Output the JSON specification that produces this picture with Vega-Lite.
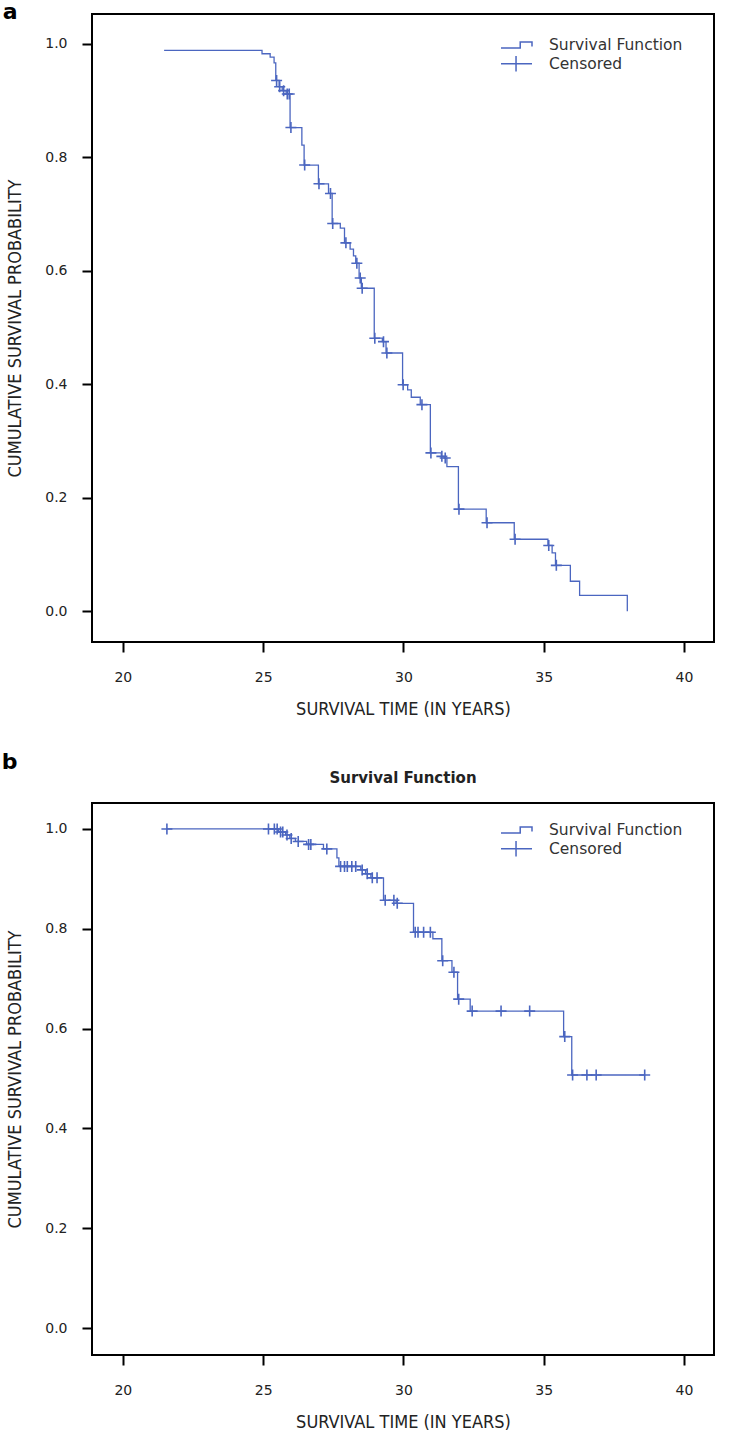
{
  "$schema": "https://vega.github.io/schema/vega-lite/v6.json",
  "background": "white",
  "padding": {"left": 1, "top": 0, "right": 5, "bottom": 5},
  "datasets": {
    "a": [
      {"t": 21.47, "s": 0.988, "status": "Event"},
      {"t": 24.96, "s": 0.982, "status": "Event"},
      {"t": 25.25, "s": 0.976, "status": "Event"},
      {"t": 25.39, "s": 0.966, "status": "Event"},
      {"t": 25.45, "s": 0.935, "status": "Event"},
      {"t": 25.48, "s": 0.935, "status": "Censored"},
      {"t": 25.57, "s": 0.924, "status": "Event"},
      {"t": 25.59, "s": 0.924, "status": "Censored"},
      {"t": 25.68, "s": 0.917, "status": "Event"},
      {"t": 25.73, "s": 0.917, "status": "Censored"},
      {"t": 25.82, "s": 0.911, "status": "Event"},
      {"t": 25.86, "s": 0.911, "status": "Censored"},
      {"t": 25.93, "s": 0.911, "status": "Censored"},
      {"t": 25.96, "s": 0.852, "status": "Event"},
      {"t": 25.99, "s": 0.852, "status": "Censored"},
      {"t": 26.38, "s": 0.821, "status": "Event"},
      {"t": 26.46, "s": 0.786, "status": "Event"},
      {"t": 26.48, "s": 0.786, "status": "Censored"},
      {"t": 26.97, "s": 0.753, "status": "Event"},
      {"t": 26.99, "s": 0.753, "status": "Censored"},
      {"t": 27.33, "s": 0.736, "status": "Event"},
      {"t": 27.40, "s": 0.736, "status": "Censored"},
      {"t": 27.46, "s": 0.683, "status": "Event"},
      {"t": 27.48, "s": 0.683, "status": "Censored"},
      {"t": 27.75, "s": 0.675, "status": "Event"},
      {"t": 27.90, "s": 0.649, "status": "Event"},
      {"t": 27.95, "s": 0.649, "status": "Censored"},
      {"t": 28.10, "s": 0.638, "status": "Event"},
      {"t": 28.22, "s": 0.626, "status": "Event"},
      {"t": 28.30, "s": 0.613, "status": "Event"},
      {"t": 28.34, "s": 0.613, "status": "Censored"},
      {"t": 28.42, "s": 0.587, "status": "Event"},
      {"t": 28.46, "s": 0.587, "status": "Censored"},
      {"t": 28.50, "s": 0.569, "status": "Event"},
      {"t": 28.53, "s": 0.569, "status": "Censored"},
      {"t": 28.96, "s": 0.481, "status": "Event"},
      {"t": 28.98, "s": 0.481, "status": "Censored"},
      {"t": 29.25, "s": 0.475, "status": "Event"},
      {"t": 29.29, "s": 0.475, "status": "Censored"},
      {"t": 29.38, "s": 0.455, "status": "Event"},
      {"t": 29.41, "s": 0.455, "status": "Censored"},
      {"t": 29.97, "s": 0.399, "status": "Event"},
      {"t": 29.99, "s": 0.399, "status": "Censored"},
      {"t": 30.15, "s": 0.390, "status": "Event"},
      {"t": 30.28, "s": 0.377, "status": "Event"},
      {"t": 30.60, "s": 0.364, "status": "Event"},
      {"t": 30.66, "s": 0.364, "status": "Censored"},
      {"t": 30.96, "s": 0.279, "status": "Event"},
      {"t": 30.98, "s": 0.279, "status": "Censored"},
      {"t": 31.35, "s": 0.273, "status": "Event"},
      {"t": 31.37, "s": 0.273, "status": "Censored"},
      {"t": 31.45, "s": 0.270, "status": "Event"},
      {"t": 31.49, "s": 0.270, "status": "Censored"},
      {"t": 31.55, "s": 0.255, "status": "Event"},
      {"t": 31.96, "s": 0.180, "status": "Event"},
      {"t": 31.98, "s": 0.180, "status": "Censored"},
      {"t": 32.95, "s": 0.156, "status": "Event"},
      {"t": 32.98, "s": 0.156, "status": "Censored"},
      {"t": 33.95, "s": 0.127, "status": "Event"},
      {"t": 33.98, "s": 0.127, "status": "Censored"},
      {"t": 35.15, "s": 0.116, "status": "Event"},
      {"t": 35.18, "s": 0.116, "status": "Censored"},
      {"t": 35.30, "s": 0.103, "status": "Event"},
      {"t": 35.42, "s": 0.081, "status": "Event"},
      {"t": 35.45, "s": 0.081, "status": "Censored"},
      {"t": 35.95, "s": 0.053, "status": "Event"},
      {"t": 36.28, "s": 0.028, "status": "Event"},
      {"t": 37.98, "s": 0.000, "status": "Event"}
    ],
    "b": [
      {"t": 21.57, "s": 1.0, "status": "Censored"},
      {"t": 25.19, "s": 1.0, "status": "Censored"},
      {"t": 25.40, "s": 1.0, "status": "Censored"},
      {"t": 25.50, "s": 1.0, "status": "Censored"},
      {"t": 25.55, "s": 0.994, "status": "Event"},
      {"t": 25.62, "s": 0.994, "status": "Censored"},
      {"t": 25.70, "s": 0.994, "status": "Censored"},
      {"t": 25.80, "s": 0.988, "status": "Event"},
      {"t": 25.85, "s": 0.988, "status": "Censored"},
      {"t": 25.95, "s": 0.981, "status": "Event"},
      {"t": 26.00, "s": 0.981, "status": "Censored"},
      {"t": 26.15, "s": 0.975, "status": "Event"},
      {"t": 26.25, "s": 0.975, "status": "Censored"},
      {"t": 26.55, "s": 0.969, "status": "Event"},
      {"t": 26.62, "s": 0.969, "status": "Censored"},
      {"t": 26.70, "s": 0.969, "status": "Censored"},
      {"t": 27.15, "s": 0.960, "status": "Event"},
      {"t": 27.27, "s": 0.960, "status": "Censored"},
      {"t": 27.63, "s": 0.942, "status": "Event"},
      {"t": 27.70, "s": 0.925, "status": "Event"},
      {"t": 27.76, "s": 0.925, "status": "Censored"},
      {"t": 27.90, "s": 0.925, "status": "Censored"},
      {"t": 28.00, "s": 0.925, "status": "Censored"},
      {"t": 28.16, "s": 0.925, "status": "Censored"},
      {"t": 28.30, "s": 0.925, "status": "Censored"},
      {"t": 28.48, "s": 0.918, "status": "Event"},
      {"t": 28.53, "s": 0.918, "status": "Censored"},
      {"t": 28.65, "s": 0.910, "status": "Event"},
      {"t": 28.71, "s": 0.910, "status": "Censored"},
      {"t": 28.84, "s": 0.902, "status": "Event"},
      {"t": 28.89, "s": 0.902, "status": "Censored"},
      {"t": 29.06, "s": 0.902, "status": "Censored"},
      {"t": 29.29, "s": 0.857, "status": "Event"},
      {"t": 29.35, "s": 0.857, "status": "Censored"},
      {"t": 29.66, "s": 0.857, "status": "Censored"},
      {"t": 29.74, "s": 0.851, "status": "Event"},
      {"t": 29.78, "s": 0.851, "status": "Censored"},
      {"t": 30.36, "s": 0.793, "status": "Event"},
      {"t": 30.42, "s": 0.793, "status": "Censored"},
      {"t": 30.52, "s": 0.793, "status": "Censored"},
      {"t": 30.72, "s": 0.793, "status": "Censored"},
      {"t": 30.96, "s": 0.793, "status": "Censored"},
      {"t": 31.05, "s": 0.780, "status": "Event"},
      {"t": 31.37, "s": 0.736, "status": "Event"},
      {"t": 31.40, "s": 0.736, "status": "Censored"},
      {"t": 31.73, "s": 0.713, "status": "Event"},
      {"t": 31.80, "s": 0.713, "status": "Censored"},
      {"t": 31.93, "s": 0.659, "status": "Event"},
      {"t": 31.97, "s": 0.659, "status": "Censored"},
      {"t": 32.38, "s": 0.635, "status": "Event"},
      {"t": 32.45, "s": 0.635, "status": "Censored"},
      {"t": 33.48, "s": 0.635, "status": "Censored"},
      {"t": 34.50, "s": 0.635, "status": "Censored"},
      {"t": 35.71, "s": 0.584, "status": "Event"},
      {"t": 35.75, "s": 0.584, "status": "Censored"},
      {"t": 36.00, "s": 0.507, "status": "Event"},
      {"t": 36.03, "s": 0.507, "status": "Censored"},
      {"t": 36.54, "s": 0.507, "status": "Censored"},
      {"t": 36.87, "s": 0.507, "status": "Censored"},
      {"t": 38.60, "s": 0.507, "status": "Censored"}
    ]
  },
  "config": {
    "view": {"stroke": "black", "strokeWidth": 2},
    "axis": {
      "domain": false, "grid": false,
      "tickColor": "black", "tickWidth": 2, "tickSize": 10,
      "labelFont": "DejaVu Sans", "labelFontSize": 14, "labelColor": "#222",
      "titleFont": "DejaVu Sans Condensed, DejaVu Sans", "titleFontWeight": "normal", "titleColor": "#222", "titleFontSize": 18
    },
    "axisX": {"labelPadding": 18, "titlePadding": 16},
    "axisY": {"labelPadding": 15, "titlePadding": 20},
    "legend": {
      "orient": "none", "padding": 0, "title": null,
      "labelFont": "DejaVu Sans", "labelFontSize": 15.5, "labelColor": "#333",
      "symbolSize": 961, "symbolStrokeWidth": 1.5, "symbolStrokeColor": "#4b66c0", "symbolFillColor": "transparent",
      "labelOffset": 16
    }
  },
  "spacing": 32,
  "resolve": {"scale": {"color": "independent", "strokeDash": "independent"}, "legend": {"color": "independent", "strokeDash": "independent"}},
  "vconcat": [
    {
      "width": 622, "height": 628,
      "title": {"text": "a", "anchor": "start", "frame": "bounds", "font": "DejaVu Sans", "fontSize": 22, "fontWeight": "bold", "color": "black", "baseline": "alphabetic", "offset": -23, "dy": 4, "dx": -4},
      "data": {"name": "a"},
      "encoding": {
        "x": {"field": "t", "type": "quantitative", "scale": {"domain": [18.9, 41.07], "nice": false, "zero": false},
              "axis": {"title": "SURVIVAL TIME (IN YEARS)", "values": [20, 25, 30, 35, 40], "format": "d"}},
        "y": {"field": "s", "type": "quantitative", "scale": {"domain": [-0.054, 1.052], "nice": false, "zero": false},
              "axis": {"title": "CUMULATIVE SURVIVAL PROBABILITY", "values": [0, 0.2, 0.4, 0.6, 0.8, 1.0], "format": ".1f"}}
      },
      "layer": [
        {
          "mark": {"type": "line", "interpolate": "step-after", "color": "#4b66c0", "strokeWidth": 1.3},
          "encoding": {
            "strokeDash": {"datum": "Survival Function", "scale": {"range": [[1, 0]]},
              "legend": {"orient": "none", "legendX": 408, "legendY": 14.5, "symbolType": "M-1,0.2H0.24V-0.2H1V0.09", "symbolFillColor": "transparent"}}
          }
        },
        {
          "transform": [{"filter": "datum.status === 'Censored'"}],
          "mark": {"type": "point", "filled": false, "shape": "M-1,0H1M0,-1V1", "strokeWidth": 1.6, "size": 121, "opacity": 1},
          "encoding": {
            "color": {"datum": "Censored", "scale": {"range": ["#4b66c0"]},
              "legend": {"orient": "none", "legendX": 408, "legendY": 33.2, "symbolType": "M-1,0H1M-0.03,-0.5V0.5"}}
          }
        }
      ]
    },
    {
      "title": {"text": "b", "anchor": "start", "frame": "bounds", "font": "DejaVu Sans", "fontSize": 22, "fontWeight": "bold", "color": "black", "baseline": "alphabetic", "offset": -21, "dx": -4},
      "resolve": {"scale": {"color": "independent", "strokeDash": "independent"}, "legend": {"color": "independent", "strokeDash": "independent"}},
      "vconcat": [
        {
          "width": 622, "height": 552,
          "title": {"text": "Survival Function", "anchor": "middle", "frame": "group", "font": "DejaVu Sans", "fontSize": 15, "fontWeight": "bold", "color": "#222", "baseline": "alphabetic", "offset": 5},
          "data": {"name": "b"},
          "encoding": {
            "x": {"field": "t", "type": "quantitative", "scale": {"domain": [18.9, 41.07], "nice": false, "zero": false},
                  "axis": {"title": "SURVIVAL TIME (IN YEARS)", "values": [20, 25, 30, 35, 40], "format": "d"}},
            "y": {"field": "s", "type": "quantitative", "scale": {"domain": [-0.054, 1.052], "nice": false, "zero": false},
                  "axis": {"title": "CUMULATIVE SURVIVAL PROBABILITY", "values": [0, 0.2, 0.4, 0.6, 0.8, 1.0], "format": ".1f"}}
          },
          "layer": [
            {
              "mark": {"type": "line", "interpolate": "step-after", "color": "#4b66c0", "strokeWidth": 1.3},
              "encoding": {
                "strokeDash": {"datum": "Survival Function", "scale": {"range": [[1, 0]]},
                  "legend": {"orient": "none", "legendX": 408, "legendY": 10.5, "symbolType": "M-1,0.2H0.24V-0.2H1V0.09", "symbolFillColor": "transparent"}}
              }
            },
            {
              "transform": [{"filter": "datum.status === 'Censored'"}],
              "mark": {"type": "point", "filled": false, "shape": "M-1,0H1M0,-1V1", "strokeWidth": 1.6, "size": 121, "opacity": 1},
              "encoding": {
                "color": {"datum": "Censored", "scale": {"range": ["#4b66c0"]},
                  "legend": {"orient": "none", "legendX": 408, "legendY": 29.2, "symbolType": "M-1,0H1M-0.03,-0.5V0.5"}}
              }
            }
          ]
        }
      ]
    }
  ]
}
